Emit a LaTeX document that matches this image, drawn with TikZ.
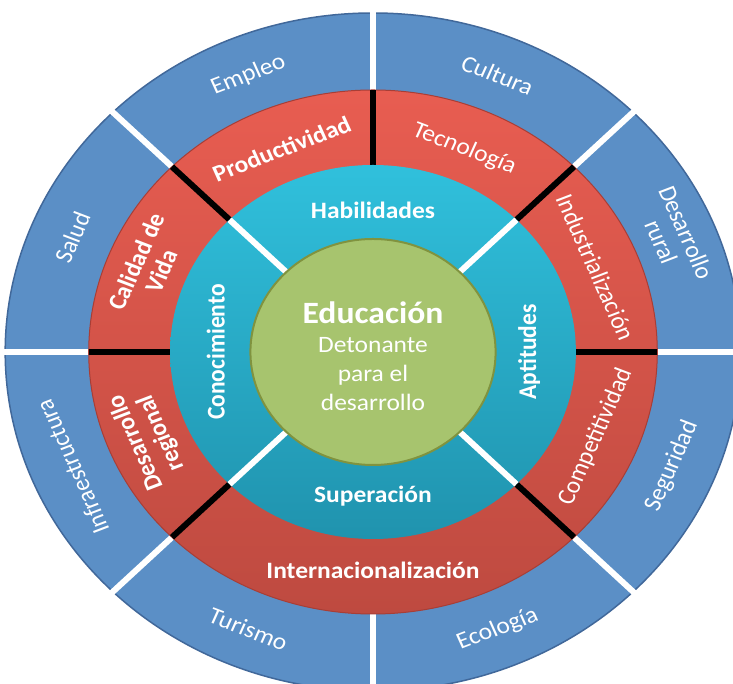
\documentclass[tikz,border=0pt]{standalone}
\usepackage{fontspec}
\setmainfont{Carlito}
\definecolor{ringblue}{HTML}{5B8FC6}
\definecolor{ringbluedark}{HTML}{41689A}
\definecolor{redtop}{HTML}{E85D51}
\definecolor{redbot}{HTML}{BE4A40}
\definecolor{rededge}{HTML}{A83E36}
\definecolor{tealtop}{HTML}{30C0DC}
\definecolor{tealbot}{HTML}{2093AE}
\definecolor{centergreen}{HTML}{A7C46E}
\definecolor{centeredge}{HTML}{80933F}
\begin{document}
\begin{tikzpicture}[x=1pt,y=1pt,
  lbl/.style={text=white, align=center, inner sep=0pt, transform shape,
    font=\fontsize{23.5}{25}\selectfont},
  lblb/.style={text=white, align=center, inner sep=0pt, transform shape,
    font=\fontsize{23.5}{25}\selectfont\bfseries},
  divwhite/.style={white, line width=6pt},
  divblack/.style={black, line width=6pt}]
\useasboundingbox (0,0) rectangle (733,684);
\clip (0,0) rectangle (733,684);
\begin{scope}[shift={(373,332)}, xscale=1.085]
  % outer blue ring
  \draw[ringbluedark, line width=1.5pt, fill=ringblue] (0,0) circle (339);
  \foreach \a in {0,45,...,315}
    \draw[divwhite] (\a:250) -- (\a:341);
  % red ring
  \shade[top color=redtop, bottom color=redbot] (0,0) circle (262);
  \draw[rededge, line width=1pt] (0,0) circle (262);
  \foreach \a in {0,45,90,135,180,225,315}
    \draw[divblack] (\a:175) -- (\a:262);
  % teal ring
  \shade[top color=tealtop, bottom color=tealbot] (0,0) circle (187);
  \foreach \a in {45,135,225,315}
    \draw[divwhite] (\a:100) -- (\a:187);
  % centre
  \draw[centeredge, line width=2pt, fill=centergreen] (0,0) circle (113);

  % outer labels
  \node[lbl, rotate=22.5]  (empleo)  at (112.5:300) {Empleo};
  \node[lbl, rotate=-22.5] (cultura) at (67.5:300)  {Cultura};
  \node[lbl, rotate=-67.5] (rural)   at (22.5:300)  {Desarrollo\\rural};
  \node[lbl, rotate=67.5]  (segur)   at (-22.5:298) {Seguridad};
  \node[lbl, rotate=22.5]  (ecolog)  at (-67.5:300) {Ecología};
  \node[lbl, rotate=-22.5] (turismo) at (-112.5:300){Turismo};
  \node[lbl, rotate=112.5] (infra)   at (-157.5:300){Infraestructura};
  \node[lbl, rotate=67.5]  (salud)   at (157.5:300) {Salud};

  % red labels
  \node[lblb, rotate=22.5]  (product) at (112.5:220) {Productividad};
  \node[lbl,  rotate=-22.5] (tecno)   at (67.5:220)  {Tecnología};
  \node[lbl,  rotate=-67.5] (indus)   at (22.5:222)  {Industrialización};
  \node[lbl,  rotate=67.5]  (compet)  at (-22.5:222) {Competitividad};
  \node[lblb]               (intern)  at (-90:218)   {Internacionalización};
  \node[lblb, rotate=112.5] (region)  at (-157.5:224){Desarrollo\\regional};
  \node[lblb, rotate=67.5]  (calidad) at (157.5:224) {Calidad de\\Vida};

  % teal labels
  \node[lblb]            (habil)  at (90:142)  {Habilidades};
  \node[lblb, rotate=90] (aptit)  at (0:144)   {Aptitudes};
  \node[lblb]            (super)  at (-90:144) {Superación};
  \node[lblb, rotate=90] (conoc)  at (180:145) {Conocimiento};

  % centre text
  \node[text=white, align=center, inner sep=0pt, transform shape,
        font=\fontsize{23.5}{29}\selectfont] (edu) at (0,-4)
    {{\fontsize{31}{33}\selectfont\bfseries Educación}\\Detonante\\para el\\desarrollo};
\end{scope}
\end{tikzpicture}
\end{document}
